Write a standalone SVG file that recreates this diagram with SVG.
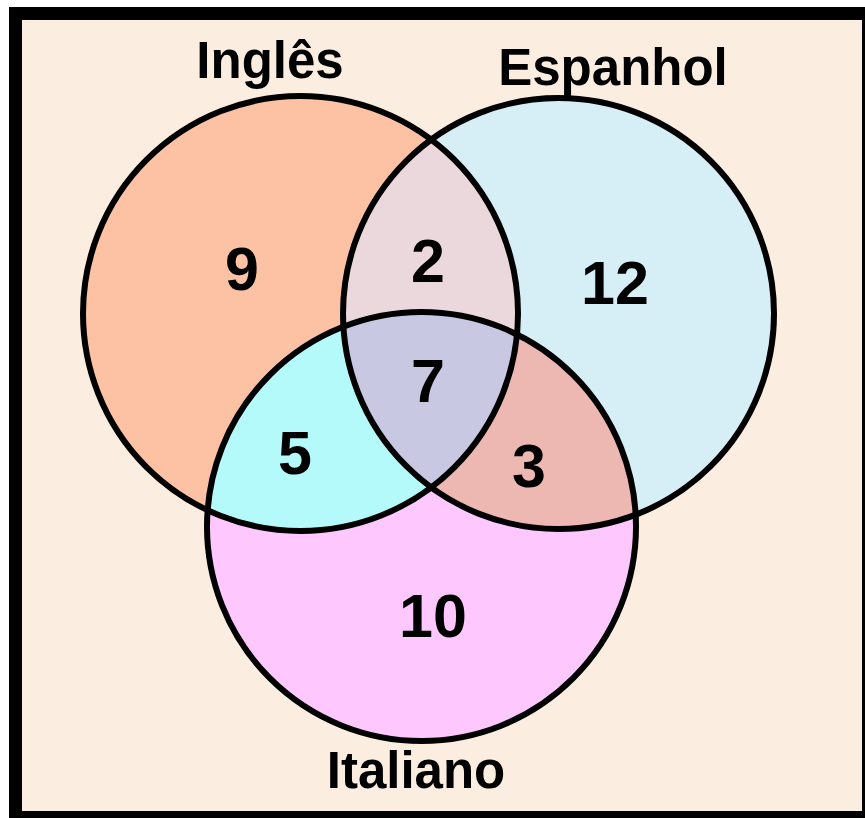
<svg xmlns="http://www.w3.org/2000/svg" width="865" height="818" viewBox="0 0 865 818">
<style>
.lbl{font-family:"Liberation Sans",Arial,sans-serif;font-weight:bold;font-size:51px;fill:#000;text-anchor:middle}
.num{font-family:"Liberation Sans",Arial,sans-serif;font-weight:bold;font-size:61px;fill:#000;text-anchor:middle}
.ring{fill:none;stroke:#000;stroke-width:6}
</style>
<defs>
<circle id="cI" cx="300.5" cy="313.5" r="217.5"/>
<circle id="cE" cx="558.5" cy="313.5" r="215.5"/>
<circle id="cT" cx="421.5" cy="526.5" r="214.5"/>
<clipPath id="clipI"><use href="#cI"/></clipPath>
<clipPath id="clipE"><use href="#cE"/></clipPath>
<clipPath id="clipT"><use href="#cT"/></clipPath>
</defs>
<rect x="0" y="0" width="865" height="818" fill="#ffffff"/>
<rect x="9" y="7" width="856" height="811" fill="#000"/>
<rect x="22" y="20" width="840" height="791" fill="#FCEDE1"/>
<g id="fills">
<use href="#cI" fill="#FDC2A3"/>
<use href="#cE" fill="#D6EEF5"/>
<use href="#cT" fill="#FEC8FE"/>
<use href="#cE" fill="#EBD8DC" clip-path="url(#clipI)"/>
<use href="#cT" fill="#B5FAFA" clip-path="url(#clipI)"/>
<use href="#cT" fill="#EEB8B2" clip-path="url(#clipE)"/>
<g clip-path="url(#clipI)"><use href="#cT" fill="#C8C8E2" clip-path="url(#clipE)"/></g>
</g>
<g id="ingles">
<use href="#cI" class="ring"/>
<text class="lbl" x="270" y="78">Inglês</text>
</g>
<g id="espanhol">
<use href="#cE" class="ring"/>
<text class="lbl" x="613" y="85">Espanhol</text>
</g>
<g id="italiano">
<use href="#cT" class="ring"/>
<text class="lbl" x="416" y="788">Italiano</text>
</g>
<g id="counts">
<text class="num" x="242" y="290">9</text>
<text class="num" x="428" y="282">2</text>
<text class="num" x="615" y="304">12</text>
<text class="num" x="428" y="402">7</text>
<text class="num" x="295" y="474">5</text>
<text class="num" x="529" y="487">3</text>
<text class="num" x="433" y="637">10</text>
</g>
</svg>
